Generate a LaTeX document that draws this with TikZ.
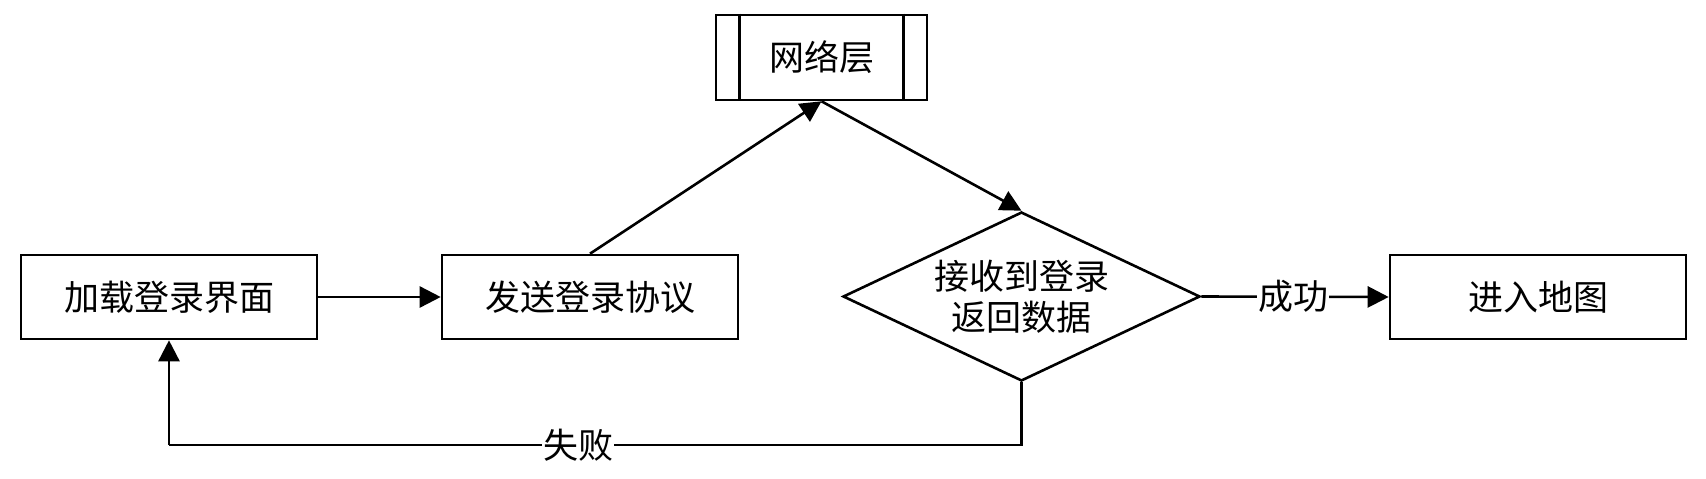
\documentclass[tikz,border=0pt]{standalone}
\usepackage{fontspec}
\newfontfamily\cjk{Noto Sans CJK SC}
\usetikzlibrary{arrows.meta,shapes.geometric}
\tikzset{
  base/.style={draw=black, line width=2.6pt, inner sep=0pt, font=\cjk\fontsize{35}{41}\selectfont, align=center},
  boxnode/.style={base, rectangle, minimum width=#1, minimum height=84pt},
  link/.style={line width=2.6pt, -{Triangle[length=21pt,width=21pt]}},
  plain/.style={line width=2.6pt},
  lbl/.style={font=\cjk\fontsize{35}{41}\selectfont, fill=white, inner sep=1pt}
}
\begin{document}
\begin{tikzpicture}[x=1pt,y=-1pt]
\useasboundingbox (0,0) rectangle (1706,479);
\node[boxnode=296pt] (load) at (169,297) {加载登录界面};
\node[boxnode=296pt] (send) at (590,297) {发送登录协议};
\node[boxnode=211pt, minimum height=85pt] (net) at (821.5,57.5) {网络层};
\draw[plain] ([xshift=25pt]net.north west) -- ([xshift=25pt]net.south west);
\draw[plain] ([xshift=-25pt]net.north east) -- ([xshift=-25pt]net.south east);
\node[base, diamond, aspect=2.1, minimum width=357pt, minimum height=169pt] (dec) at (1021.5,296.5) {接收到登录\\返回数据};
\node[boxnode=296pt] (map) at (1538,297) {进入地图};
\coordinate (c1) at (1021.5,445);
\coordinate (c2) at (169,445);
\draw[link] (load.east) -- (send.west);
\draw[link] (send.north) -- (net.south);
\draw[link] (net.south) -- (dec.north);
\draw[link] (dec.east) -- node[lbl, pos=0.49] (ok) {成功} (map.west);
\draw[plain] (dec.south) -- (c1) -- node[lbl, pos=0.52] (fail) {失败} (c2);
\draw[link] (c2) -- (load.south);
\end{tikzpicture}
\end{document}
